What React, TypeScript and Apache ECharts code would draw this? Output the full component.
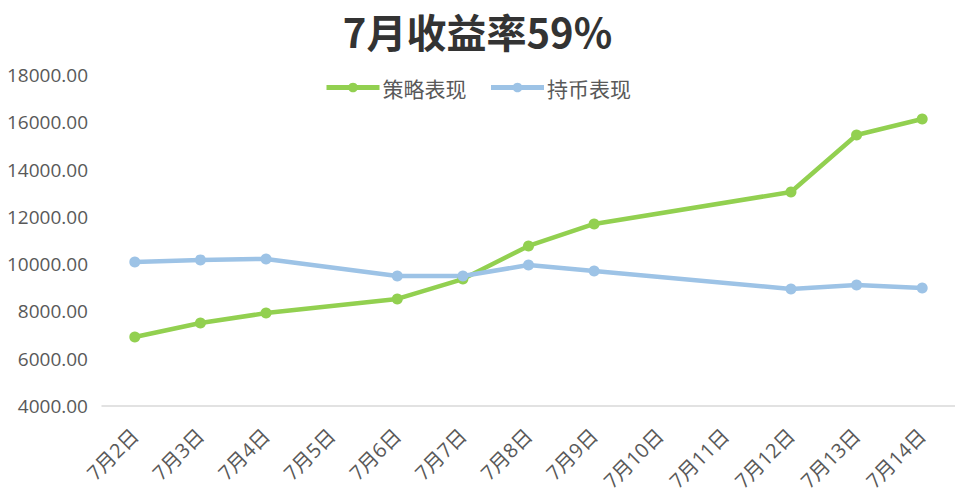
import React, { useEffect, useRef } from "react";
import * as echarts from "echarts";

const categories = ["7月2日", "7月3日", "7月4日", "7月5日", "7月6日", "7月7日", "7月8日", "7月9日", "7月10日", "7月11日", "7月12日", "7月13日", "7月14日"];
const strategyValues = [6920, 7510, 7930, null, 8530, 9370, 10770, 11700, null, null, 13050, 15460, 16140];
const holdValues = [10090, 10180, 10220, null, 9500, 9500, 9960, 9710, null, null, 8950, 9120, 8990];
const seriesNames = ["策略表现", "持币表现"];
const titleText = "7月收益率59%";

export default function App() {
  const ref = useRef<HTMLDivElement>(null);
  useEffect(() => {
    const chart = echarts.init(ref.current!, null, { renderer: "svg" });
    const labelFont = "'Open Sans', 'Noto Sans CJK SC', sans-serif";
    chart.setOption({
      animation: false,
      title: {
        text: titleText,
        left: "center",
        top: 6,
        textStyle: { fontSize: 40, fontWeight: "bold", color: "#333333", fontFamily: "'Noto Sans CJK SC', sans-serif" },
      },
      legend: {
        top: 72,
        left: "center",
        itemWidth: 53,
        itemHeight: 12,
        itemGap: 22,
        lineStyle: { width: 5 },
        textStyle: { fontSize: 21, color: "#595959", fontFamily: "'Noto Sans CJK SC', sans-serif", padding: [0, 0, 0, -2] },
        data: seriesNames,
      },
      grid: { left: 102, width: 857, top: 75, bottom: 96, containLabel: false },
      xAxis: {
        type: "category",
        data: categories,
        boundaryGap: true,
        axisLine: { lineStyle: { color: "#d9d9d9", width: 1.5 } },
        axisTick: { show: false },
        axisLabel: { rotate: 45, fontSize: 20, color: "#595959", margin: 26, interval: 0, fontFamily: labelFont },
      },
      yAxis: {
        type: "value",
        min: 4000,
        max: 18000,
        interval: 2000,
        splitLine: { show: false },
        axisLine: { show: false },
        axisTick: { show: false },
        axisLabel: {
          fontSize: 19,
          color: "#595959",
          margin: 14,
          fontFamily: labelFont,
          formatter: (v: number) => v.toFixed(2),
        },
      },
      series: [
        {
          name: seriesNames[0],
          type: "line",
          data: strategyValues,
          connectNulls: true,
          symbol: "circle",
          symbolSize: 11,
          lineStyle: { width: 4.5, color: "#92d050" },
          itemStyle: { color: "#92d050" },
        },
        {
          name: seriesNames[1],
          type: "line",
          data: holdValues,
          connectNulls: true,
          symbol: "circle",
          symbolSize: 11,
          lineStyle: { width: 4.5, color: "#9dc3e6" },
          itemStyle: { color: "#9dc3e6" },
        },
      ],
    });
    return () => chart.dispose();
  }, []);
  return <div ref={ref} style={{ width: 955, height: 502, position: "absolute", left: 0, top: 0 }} />;
}
